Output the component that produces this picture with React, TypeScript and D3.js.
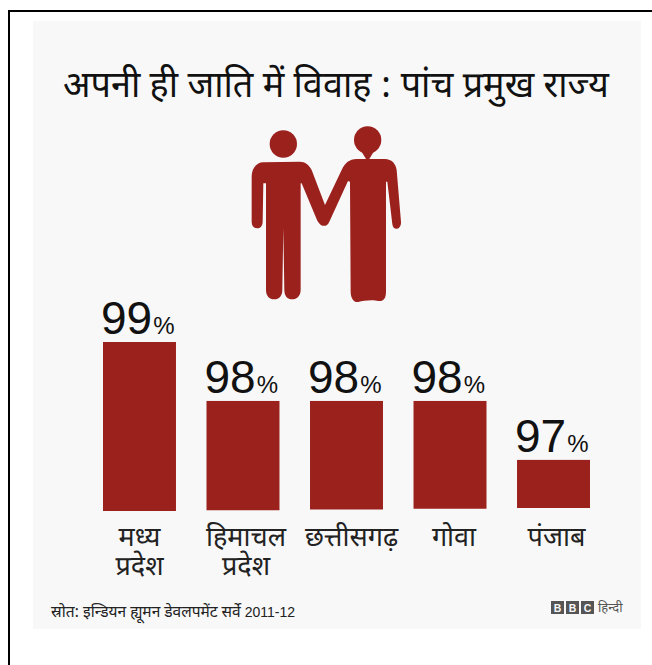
import React from "react";
import * as d3 from "d3";

const states = ["मध्य प्रदेश", "हिमाचल प्रदेश", "छत्तीसगढ़", "गोवा", "पंजाब"];
const shares = [99, 98, 98, 98, 97];
const bbcLetters = ["B", "B", "C"];

const RED = "#9b211d";
const HINDI = "'Noto Sans Devanagari','Lohit Devanagari','Noto Sans','Liberation Sans',sans-serif";
const LATIN = "'Liberation Sans',Arial,sans-serif";

// Couple holding hands; traced on a 3x grid and scaled down when placed
const couple =
  "M100 127 L210 125 C225 125 238 135 245 150 L285 255 L335 150 C345 128 358 118 380 117 L465 117 C485 118 497 130 500 150 L513 305 C514 320 505 327 498 326 C491 325 488 320 487 312 L472 185 L468 185 L468 515 C468 535 460 545 445 543 C430 538 400 541 385 546 C372 548 362 535 362 515 L360 185 L354 183 L298 305 C293 316 286 319 278 317 C272 315 268 312 262 302 L215 190 L212 190 L212 510 C212 528 200 538 187 538 C172 538 163 528 163 510 L160 325 L157 510 C157 528 147 538 133 538 C118 538 108 528 108 510 L108 190 L100 190 L98 305 C98 318 90 325 82 325 C72 325 65 318 65 305 L65 170 C65 145 80 127 100 127 Z";
const neck = "M393 92 L433 92 L416 120 L410 120 Z";

export default function App() {
  const x = d3.scaleBand<string>().domain(states).range([103, 590]).paddingInner(0.295);
  const y = d3.scaleLinear().domain([96.15, 99]).range([510, 342]);
  // The artwork sits very slightly rotated, so the baseline drifts upward to the right
  const base = d3.scaleLinear().domain([0, states.length - 1]).range([511, 508]);
  // Hand-set label nudges relative to each bar centre
  const labelShift = [0, 3, 5, 4, 3];

  return (
    <svg width={652} height={665} style={{ position: "absolute", left: 0, top: 0, background: "#fff" }}>
      <rect x={9} y={11} width={660} height={700} fill="none" stroke="#000" strokeWidth={2} />
      <rect x={33} y={21} width={608} height={608} fill="#f8f8f8" />
      <text x={336} y={97} textAnchor="middle" fontFamily={HINDI} fontSize={36} fill="#111">अपनी ही जाति में विवाह : पांच प्रमुख राज्य</text>

      <g transform="translate(230,120) scale(0.3333)" fill={RED}>
        <circle cx={160} cy={72} r={41} />
        <circle cx={413} cy={60} r={41} />
        <path d={neck} />
        <path d={couple} />
      </g>

      {states.map((name, i) => {
        const left = x(name) as number;
        const w = x.bandwidth();
        const top = y(shares[i]);
        const cx = left + w / 2 + labelShift[i];
        const lines = name.split(" ");
        return (
          <g key={name}>
            <rect x={left} y={top} width={w} height={base(i) - top} fill={RED} />
            <text x={left - 2} y={top - 8} fontFamily={LATIN} fill="#111">
              <tspan fontSize={46}>{shares[i]}</tspan>
              <tspan fontSize={24} dx={1}>%</tspan>
            </text>
            <text textAnchor="middle" fontFamily={HINDI} fontSize={27} fill="#222">
              {lines.map((line, j) => (
                <tspan key={j} x={cx} y={546 + j * 29}>{line}</tspan>
              ))}
            </text>
          </g>
        );
      })}

      <text x={51} y={617} fontFamily={HINDI} fontSize={15.5} fill="#222">
        स्रोत: इन्डियन ह्यूमन डेवलपमेंट सर्वे <tspan fontFamily={LATIN} fontSize={14}>2011-12</tspan>
      </text>
      {bbcLetters.map((c, i) => (
        <g key={i}>
          <rect x={551 + i * 15} y={601} width={13} height={13} fill="#555" />
          <text x={557.5 + i * 15} y={611.5} textAnchor="middle" fontFamily={LATIN} fontWeight="bold" fontSize={10.5} fill="#f8f8f8">{c}</text>
        </g>
      ))}
      <text x={598} y={612} fontFamily={HINDI} fontSize={13} fill="#555">हिन्दी</text>
    </svg>
  );
}
